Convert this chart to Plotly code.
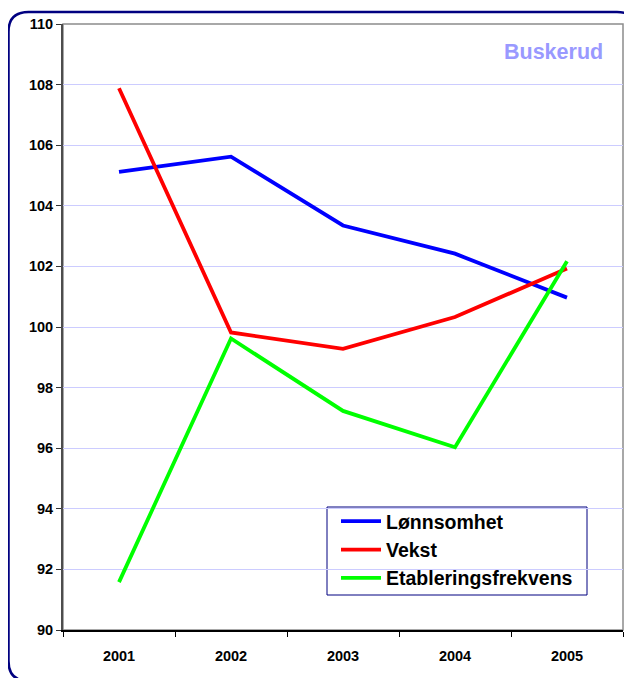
import plotly.graph_objects as go

years = ["2001", "2002", "2003", "2004", "2005"]
lonnsomhet = [105.12, 105.62, 103.35, 102.42, 100.97]
vekst = [107.88, 99.82, 99.28, 100.33, 101.93]
etablering = [91.58, 99.62, 97.23, 96.03, 102.17]
series_names = ["Lønnsomhet", "Vekst", "Etableringsfrekvens"]
series_colors = ["#0000FF", "#FF0000", "#00FF00"]
y_ticks = list(range(90, 111, 2))

OFF = 8  # page body margin
W, H = 632 - OFF, 678 - OFF
# plot area in screen pixels
L, R, T, B = 63, 623, 24, 630
pw, ph = R - L, B - T


def px(x):
    return (x - L) / pw


def py(y):
    return (B - y) / ph


fig = go.Figure()
for name, vals, col in zip(series_names, [lonnsomhet, vekst, etablering], series_colors):
    fig.add_trace(go.Scatter(x=years, y=vals, mode="lines", name=name,
                             line=dict(color=col, width=3.8)))

# rounded outer border
x0, y0, x1, y1, r = 8.5, 12, 637, 681, 20
path = (f"M {px(x0+r)},{py(y0)} L {px(x1-r)},{py(y0)} Q {px(x1)},{py(y0)} {px(x1)},{py(y0+r)} "
        f"L {px(x1)},{py(y1-r)} Q {px(x1)},{py(y1)} {px(x1-r)},{py(y1)} "
        f"L {px(x0+r)},{py(y1)} Q {px(x0)},{py(y1)} {px(x0)},{py(y1-r)} "
        f"L {px(x0)},{py(y0+r)} Q {px(x0)},{py(y0)} {px(x0+r)},{py(y0)} Z")
fig.add_shape(type="path", path=path, xref="paper", yref="paper",
              line=dict(color="#000080", width=2.5), layer="above")
# plot frame (top/right gray)
fig.add_shape(type="rect", xref="paper", yref="paper", x0=0, y0=0, x1=1, y1=1,
              line=dict(color="#8c8c8c", width=1.5), layer="below")
# legend box
fig.add_shape(type="rect", xref="paper", yref="paper",
              x0=px(327), y0=py(595), x1=px(587), y1=py(507),
              line=dict(color="#000080", width=1), fillcolor="white", layer="between")

fig.add_annotation(text="Buskerud", xref="paper", yref="paper",
                   x=px(605), y=py(52), xanchor="right", yanchor="middle", showarrow=False,
                   font=dict(family="Liberation Sans", size=21.5, color="#9999FF", weight="bold"))

fig.update_layout(
    width=W, height=H,
    margin=dict(l=L - OFF, r=W - (R - OFF), t=T - OFF, b=H - (B - OFF), autoexpand=False),
    paper_bgcolor="white", plot_bgcolor="white",
    font=dict(family="Liberation Sans", color="black"),
    showlegend=True,
    legend=dict(x=px(336), y=py(502), xanchor="left", yanchor="top",
                bgcolor="rgba(0,0,0,0)", borderwidth=0,
                font=dict(family="Liberation Sans", size=19.5, color="black", weight="bold"),
                itemwidth=40),
    xaxis=dict(type="category", range=[-0.5, 4.5], tickson="boundaries",
               ticks="outside", ticklen=5, tickcolor="black", tickwidth=1,
               showline=True, linecolor="black", linewidth=1.5,
               showgrid=False, zeroline=False, ticklabelstandoff=12,
               tickfont=dict(family="Liberation Sans", size=14.5, weight="bold")),
    yaxis=dict(range=[90, 110], tickvals=y_ticks, ticks="outside", ticklen=5,
               tickcolor="#333333", showline=True, linecolor="#4d4d4d", linewidth=2,
               showgrid=True, gridcolor="#ccccff", gridwidth=1, zeroline=False,
               tickfont=dict(family="Liberation Sans", size=14.5, weight="bold")),
)

fig.write_html("out.html")
